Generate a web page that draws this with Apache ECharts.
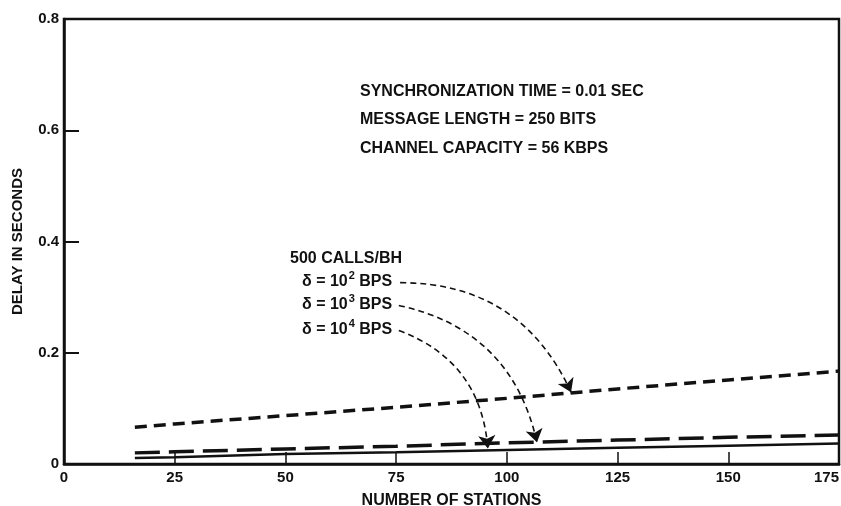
<!DOCTYPE html>
<html>
<head>
<meta charset="utf-8">
<script src="https://cdn.jsdelivr.net/npm/echarts@6/dist/echarts.min.js"></script>
<style>
  html, body { margin: 0; padding: 0; background: #fff; }
  #chart { width: 841px; height: 506px; }
</style>
</head>
<body>
<div id="chart"></div>
<script>
// Number of stations on the x axis
const stations = [16, 25, 50, 75, 100, 125, 150, 175];

// Delay in seconds for 500 calls/BH at three data rates
const delay1e2 = [0.066, 0.072, 0.087, 0.102, 0.118, 0.135, 0.151, 0.167];
const delay1e3 = [0.020, 0.022, 0.027, 0.032, 0.038, 0.043, 0.048, 0.052];
const delay1e4 = [0.011, 0.012, 0.018, 0.021, 0.025, 0.029, 0.033, 0.037];

// Axis ticks
const xTicks = [0, 25, 50, 75, 100, 125, 150, 175];
const yTicks = [0, 0.2, 0.4, 0.6, 0.8];

// Leader arrows from the rate labels to their curves: [start, end] in data units
const leader1e2 = [[75.9, 0.326], [114.5, 0.129]];
const leader1e3 = [[75.6, 0.285], [106.8, 0.039]];
const leader1e4 = [[75.6, 0.240], [95.7, 0.028]];

const FONT = '"Liberation Sans", Arial, Helvetica, sans-serif';
const INK = '#111';
const TXT = 'bold 16px ' + FONT;

const pairs = (ys) => stations.map((s, i) => [s, ys[i]]);

const chart = echarts.init(document.getElementById('chart'), null, { renderer: 'canvas' });

const textStyle = { fontFamily: FONT, fontWeight: 'bold', fontSize: 15, color: INK };

const note = (text, x, y) => ({
  type: 'text', x: x, y: y,
  style: { text: text, font: TXT, fill: INK, verticalAlign: 'middle' }
});

const rateLabel = (exp, x, y) => ({
  type: 'text', x: x, y: y,
  style: {
    text: '\u03b4 = 10{sup|' + exp + '} BPS',
    font: TXT,
    fill: INK,
    verticalAlign: 'middle',
    rich: {
      sup: { fontSize: 11, fontWeight: 'bold', fontFamily: FONT, fill: INK, padding: [0, 0, 12, 1] }
    }
  }
});

chart.setOption({
  animation: false,
  backgroundColor: '#fff',
  grid: {
    left: 64, right: 2, top: 19, bottom: 42,
    outerBoundsMode: 'none',
    containLabel: false,
    show: true, borderColor: INK, borderWidth: 2.5, backgroundColor: 'transparent'
  },
  xAxis: {
    type: 'value',
    min: xTicks[0], max: xTicks[xTicks.length - 1], interval: 25,
    name: 'NUMBER OF STATIONS', nameLocation: 'middle', nameGap: 29,
    nameTextStyle: Object.assign({}, textStyle, { fontSize: 16 }),
    axisLine: { show: true, lineStyle: { color: INK, width: 2.5 } },
    axisTick: { show: true, inside: true, length: 12, lineStyle: { color: INK, width: 1.5 } },
    axisLabel: Object.assign({}, textStyle, { margin: 6, hideOverlap: false, alignMaxLabel: 'right' }),
    splitLine: { show: false }
  },
  yAxis: {
    type: 'value',
    min: yTicks[0], max: yTicks[yTicks.length - 1], interval: 0.2,
    name: 'DELAY IN SECONDS', nameLocation: 'middle', nameGap: 39, nameRotate: 90,
    nameTextStyle: Object.assign({}, textStyle, { fontSize: 15, padding: [0, 0, 0, 0] }),
    axisLine: { show: true, lineStyle: { color: INK, width: 2.5 } },
    axisTick: { show: true, inside: true, length: 15, lineStyle: { color: INK, width: 2 } },
    axisLabel: Object.assign({}, textStyle, { margin: 5,
      formatter: (v) => (v === 0 ? '0' : String(Math.round(v * 10) / 10)) }),
    splitLine: { show: false }
  },
  series: [
    {
      name: '10^2 BPS', type: 'line', data: pairs(delay1e2),
      showSymbol: false, symbol: 'none',
      lineStyle: { color: INK, width: 3.5, type: [12, 7] }
    },
    {
      name: '10^3 BPS', type: 'line', data: pairs(delay1e3),
      showSymbol: false, symbol: 'none',
      lineStyle: { color: INK, width: 3.5, type: [25, 9] }
    },
    {
      name: '10^4 BPS', type: 'line', data: pairs(delay1e4),
      showSymbol: false, symbol: 'none',
      lineStyle: { color: INK, width: 2.5, type: 'solid' }
    },
    {
      name: 'leaders', type: 'lines', coordinateSystem: 'cartesian2d',
      symbol: ['none', 'arrow'], symbolSize: [8, 13],
      lineStyle: { color: INK, width: 1.6, type: [6, 4], curveness: 0.32, opacity: 1 },
      data: [
        { coords: leader1e2 },
        { coords: leader1e3 },
        { coords: leader1e4 }
      ]
    }
  ],
  graphic: [
    note('SYNCHRONIZATION TIME = 0.01 SEC', 360, 92),
    note('MESSAGE LENGTH = 250 BITS', 360, 120),
    note('CHANNEL CAPACITY = 56 KBPS', 360, 149),
    note('500 CALLS/BH', 290, 259),
    rateLabel('2', 302, 282),
    rateLabel('3', 302, 305),
    rateLabel('4', 302, 330)
  ]
});
</script>
</body>
</html>
